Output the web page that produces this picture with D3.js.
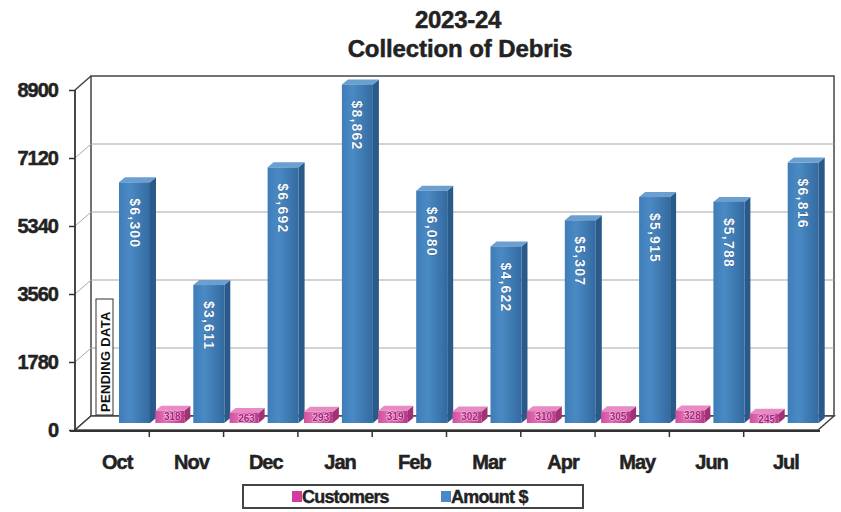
<!DOCTYPE html>
<html><head><meta charset="utf-8">
<script src="https://cdn.jsdelivr.net/npm/d3@7"></script>
<style>
html,body{margin:0;padding:0;background:#fff;}
svg{display:block;font-family:"Liberation Sans",Arial,sans-serif;}
</style></head>
<body><svg id="c" width="841" height="512"></svg>
<script>
const months = ["Oct","Nov","Dec","Jan","Feb","Mar","Apr","May","Jun","Jul"];
const amount = [6300,3611,6692,8862,6080,4622,5307,5915,5788,6816];
const customers = [null,318,263,293,319,302,310,305,328,245];
const yTicks = [0,1780,3560,5340,7120,8900];
const titleLines = ["2023-24","Collection of Debris"];
const seriesNames = ["Customers","Amount $"];

const svg = d3.select("#c");
const X0 = 75, X1 = 818, Y0 = 430, YT = 90;
const DX = 16, DY = -14;       // depth of back wall
const MX = 7, MY = -7;         // bar depth position
const y = d3.scaleLinear().domain([0,8900]).range([Y0,YT]);
const x = d3.scaleBand().domain(months).range([X0,X1]);
const bw = x.bandwidth();

const defs = svg.append("defs");
function grad(id, c1, c2, c3){
  const g = defs.append("linearGradient").attr("id",id).attr("x1","0").attr("x2","1").attr("y1","0").attr("y2","0");
  g.append("stop").attr("offset","0").attr("stop-color",c1);
  g.append("stop").attr("offset","0.35").attr("stop-color",c2);
  g.append("stop").attr("offset","1").attr("stop-color",c3);
}
grad("gBlue","#3f7db8","#4a8ac4","#336aa0");
grad("gPink","#d0509c","#e070b4","#b83a88");

// back wall
svg.append("rect").attr("x",X0+DX).attr("y",YT+DY).attr("width",X1-X0).attr("height",Y0-YT)
  .attr("fill","#fff").attr("stroke","#444").attr("stroke-width",1.5);
// gridlines
const gl = svg.append("g");
yTicks.slice(1,-1).forEach(t=>{
  gl.append("line").attr("x1",X0+DX).attr("x2",X1+DX).attr("y1",y(t)+DY).attr("y2",y(t)+DY)
    .attr("stroke","#a8a8a8").attr("stroke-width",1.2);
  gl.append("line").attr("x1",X0).attr("x2",X0+DX).attr("y1",y(t)).attr("y2",y(t)+DY)
    .attr("stroke","#a8a8a8").attr("stroke-width",1);
});
// left side wall outline
svg.append("path").attr("d",`M${X0},${YT}L${X0+DX},${YT+DY}M${X0},${Y0}L${X0+DX},${Y0+DY}`)
  .attr("stroke","#444").attr("stroke-width",1.5).attr("fill","none");
// floor
svg.append("path").attr("d",`M${X0},${Y0}L${X1},${Y0}L${X1+DX},${Y0+DY}L${X0+DX},${Y0+DY}Z`)
  .attr("fill","#fff").attr("stroke","#444").attr("stroke-width",1.5);

// bars
function bar3d(g, x0, w, v, fillId, side, top){
  const yt = y(v)+MY, yb = Y0+MY;
  const d = 6, e = -5;
  g.append("path").attr("d",`M${x0+w},${yt}L${x0+w+d},${yt+e}L${x0+w+d},${yb+e}L${x0+w},${yb}Z`).attr("fill",side);
  g.append("path").attr("d",`M${x0},${yt}L${x0+d},${yt+e}L${x0+w+d},${yt+e}L${x0+w},${yt}Z`).attr("fill",top);
  g.append("rect").attr("x",x0).attr("y",yt).attr("width",w).attr("height",yb-yt).attr("fill",`url(#${fillId})`);
}
const bars = svg.append("g");
months.forEach((m,i)=>{
  const b = x(m);
  if(customers[i]!=null){
    bar3d(bars, b+6, 29, customers[i], "gPink", "#a23278", "#e88ac4");
  }
  bar3d(bars, b+44, 31, amount[i], "gBlue", "#2a5a8a", "#6a9fd0");
});
// amount labels
const fmt = d3.format("$,");
months.forEach((m,i)=>{
  const cx = x(m)+44+15.5, yt = y(amount[i])+MY+16;
  svg.append("text").attr("transform",`translate(${cx-5},${yt}) rotate(90)`)
    .attr("font-size",14).attr("font-weight","bold").attr("fill","#f4f8ff")
    .attr("stroke","#1f4a76").attr("stroke-width",0.6).attr("paint-order","stroke")
    .attr("letter-spacing","1.2")
    .text(fmt(amount[i]));
});
// customer labels
months.forEach((m,i)=>{
  if(customers[i]==null) return;
  svg.append("text").attr("x",x(m)+6+17).attr("y",y(customers[i])+MY+9)
    .attr("text-anchor","middle").attr("font-size",10).attr("font-weight","bold")
    .attr("fill","#a8207a").attr("stroke","#f6c8e4").attr("stroke-width",1.2).attr("paint-order","stroke")
    .text(customers[i]);
});
// pending data
const pg = svg.append("g").attr("transform",`translate(${x("Oct")+30},415) rotate(-90)`);
pg.append("rect").attr("x",0).attr("y",-9).attr("width",116).attr("height",17)
  .attr("fill","#fff").attr("stroke","#333").attr("stroke-width",1);
pg.append("text").attr("x",3).attr("y",5).attr("font-size",13).attr("font-weight","bold").attr("fill","#111")
  .attr("letter-spacing","0.3").text("PENDING DATA");

// front y axis
svg.append("line").attr("x1",X0).attr("x2",X0).attr("y1",YT).attr("y2",Y0+2).attr("stroke","#333").attr("stroke-width",1.8);
const yAxis = d3.axisLeft(y).tickValues(yTicks).tickSize(6).tickPadding(11).tickFormat(d3.format("d"));
const ya = svg.append("g").attr("transform",`translate(${X0},0)`).call(yAxis);
ya.select(".domain").remove();
ya.selectAll("line").attr("stroke","#333").attr("stroke-width",1.5);
ya.selectAll("text").attr("font-size",20).attr("font-weight","bold").attr("fill","#222")
  .attr("stroke","#222").attr("stroke-width",0.5)
  .attr("letter-spacing","-1").attr("font-family","'Liberation Sans',Arial,sans-serif");

// x axis
const xa = svg.append("g").attr("transform",`translate(0,${Y0})`);
xa.append("line").attr("x1",X0-5).attr("x2",X1+2).attr("y1",1).attr("y2",1).attr("stroke","#333").attr("stroke-width",2);
months.slice(1).forEach(m=>{
  xa.append("line").attr("x1",x(m)).attr("x2",x(m)).attr("y1",0).attr("y2",7).attr("stroke","#333").attr("stroke-width",1.5);
});
months.forEach(m=>{
  xa.append("text").attr("x",x(m)+bw/2+5).attr("y",39).attr("text-anchor","middle")
    .attr("font-size",20).attr("font-weight","bold").attr("fill","#222")
    .attr("stroke","#222").attr("stroke-width",0.5).attr("letter-spacing","-1").text(m);
});

// title
svg.append("text").attr("x",458).attr("y",28).attr("text-anchor","middle").attr("font-size",24)
  .attr("font-weight","bold").attr("fill","#222").attr("stroke","#222").attr("stroke-width",0.5)
  .attr("letter-spacing","-0.3").text(titleLines[0]);
svg.append("text").attr("x",460).attr("y",57).attr("text-anchor","middle").attr("font-size",24)
  .attr("font-weight","bold").attr("fill","#222").attr("stroke","#222").attr("stroke-width",0.5)
  .attr("letter-spacing","-0.1").text(titleLines[1]);

// legend
const lg = svg.append("g");
lg.append("rect").attr("x",243).attr("y",485).attr("width",340).attr("height",23)
  .attr("fill","#fff").attr("stroke","#444").attr("stroke-width",2);
const lcol = ["#d23c9c","#4a88c8"];
const lx = [292,441];
seriesNames.forEach((s,i)=>{
  lg.append("rect").attr("x",lx[i]).attr("y",491).attr("width",10).attr("height",11).attr("fill",lcol[i]);
  lg.append("text").attr("x",lx[i]+10).attr("y",503).attr("font-size",18).attr("font-weight","bold")
    .attr("fill","#222").attr("stroke","#222").attr("stroke-width",0.4)
    .attr("letter-spacing","-0.8").text(s);
});
</script></body></html>
